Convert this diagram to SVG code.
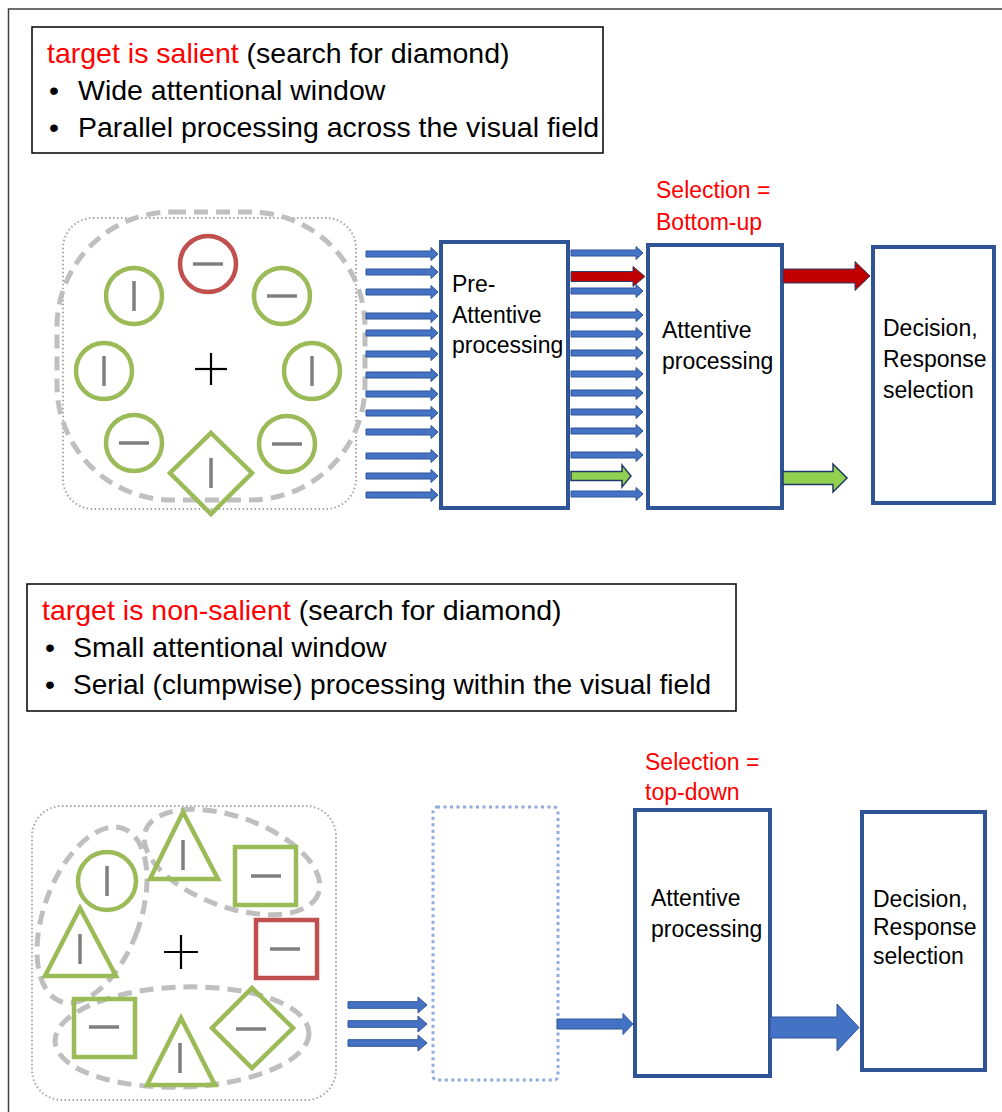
<svg xmlns="http://www.w3.org/2000/svg" xmlns:xlink="http://www.w3.org/1999/xlink" width="1002" height="1112" viewBox="0 0 1002 1112">
<style>
text{font-family:"Liberation Sans",Arial,sans-serif;fill:#000}
.hd{font-size:28.5px}
.lb{font-size:23px}
.red{fill:#FF0000}
.box{fill:#fff;stroke:#2F5597;stroke-width:4}
.tbox{fill:#fff;stroke:#000;stroke-width:1.5}
.g{fill:none;stroke:#9BBB59;stroke-width:4.5}
.r{fill:none;stroke:#C0504D;stroke-width:4.5}
.bar{stroke:#7F7F7F;stroke-width:3.5}
.plus{stroke:#000;stroke-width:2.2}
.dash{fill:none;stroke:#BFBFBF;stroke-width:5;stroke-dasharray:14 8}
.dot{fill:none;stroke:#A6A6A6;stroke-width:2;stroke-dasharray:1.5 2.5}
.blue{fill:#4472C4;stroke:#2F5597;stroke-width:1}
.redA{fill:#C00000;stroke:#2F3E6E;stroke-width:1}
.greenA{fill:#92D050;stroke:#203864;stroke-width:1.5}
</style>
<defs>
<path id="thin" d="M0,-3 H65 V-6.5 L72,0 L65,6.5 V3 H0 Z"/>
<path id="thin3" d="M0,-3.3 H70 V-8 L79,0 L70,8 V3.3 H0 Z"/>
</defs>
<rect width="1002" height="1112" fill="#fff"/>
<path d="M8.5,1112 V9 H1002" fill="none" stroke="#404040" stroke-width="1.5"/>

<!-- Top section -->
<g id="top-info">
<rect class="tbox" x="32" y="27" width="571" height="126"/>
<text class="hd" x="47" y="63"><tspan class="red">target is salient</tspan> (search for diamond)</text>
<text class="hd" x="49" y="100">•</text>
<text class="hd" x="78" y="100">Wide attentional window</text>
<text class="hd" x="49" y="137">•</text>
<text class="hd" x="78" y="137">Parallel processing across the visual field</text>
</g>

<g id="top-display">
<rect class="dot" x="63" y="218" width="293" height="291" rx="30"/>
<rect class="dash" x="57" y="212" width="308" height="288" rx="115"/>
<circle class="r" cx="208" cy="264" r="28"/><line class="bar" x1="193" y1="264" x2="223" y2="264"/>
<circle class="g" cx="134" cy="296" r="28"/><line class="bar" x1="134" y1="281" x2="134" y2="311"/>
<circle class="g" cx="282" cy="296" r="28"/><line class="bar" x1="267" y1="296" x2="297" y2="296"/>
<circle class="g" cx="104" cy="371" r="28"/><line class="bar" x1="104" y1="356" x2="104" y2="386"/>
<circle class="g" cx="312" cy="371" r="28"/><line class="bar" x1="312" y1="356" x2="312" y2="386"/>
<circle class="g" cx="134" cy="443" r="28"/><line class="bar" x1="119" y1="443" x2="149" y2="443"/>
<circle class="g" cx="287" cy="444" r="28"/><line class="bar" x1="272" y1="444" x2="302" y2="444"/>
<polygon class="g" points="211,433 252,473 211,514 170,473"/><line class="bar" x1="211" y1="458" x2="211" y2="488"/>
<line class="plus" x1="195" y1="369" x2="227" y2="369"/><line class="plus" x1="211" y1="353" x2="211" y2="385"/>
</g>

<g id="pre-attentive">
<rect class="box" x="441" y="242" width="127" height="266"/>
<text class="lb" x="452" y="292">Pre-</text>
<text class="lb" x="452" y="323">Attentive</text>
<text class="lb" x="452" y="353">processing</text>
</g>

<g id="attentive-top">
<text class="lb red" x="656" y="198">Selection =</text>
<text class="lb red" x="656" y="230">Bottom-up</text>
<rect class="box" x="648" y="245" width="134" height="263"/>
<text class="lb" x="662" y="338">Attentive</text>
<text class="lb" x="662" y="369">processing</text>
</g>

<g id="decision-top">
<rect class="box" x="873" y="247" width="121" height="256"/>
<text class="lb" x="883" y="336">Decision,</text>
<text class="lb" x="883" y="367">Response</text>
<text class="lb" x="883" y="398">selection</text>
</g>

<g id="connectors-top">
<use href="#thin" class="blue" x="366" y="254"/>
<use href="#thin" class="blue" x="366" y="272"/>
<use href="#thin" class="blue" x="366" y="292"/>
<use href="#thin" class="blue" x="366" y="316"/>
<use href="#thin" class="blue" x="366" y="333"/>
<use href="#thin" class="blue" x="366" y="354"/>
<use href="#thin" class="blue" x="366" y="375"/>
<use href="#thin" class="blue" x="366" y="394"/>
<use href="#thin" class="blue" x="366" y="413"/>
<use href="#thin" class="blue" x="366" y="432"/>
<use href="#thin" class="blue" x="366" y="456"/>
<use href="#thin" class="blue" x="366" y="476"/>
<use href="#thin" class="blue" x="366" y="495"/>

<use href="#thin" class="blue" x="571" y="253"/>
<use href="#thin" class="blue" x="571" y="291"/>
<use href="#thin" class="blue" x="571" y="315"/>
<use href="#thin" class="blue" x="571" y="334"/>
<use href="#thin" class="blue" x="571" y="353"/>
<use href="#thin" class="blue" x="571" y="374"/>
<use href="#thin" class="blue" x="571" y="393"/>
<use href="#thin" class="blue" x="571" y="412"/>
<use href="#thin" class="blue" x="571" y="431"/>
<use href="#thin" class="blue" x="571" y="455"/>
<use href="#thin" class="blue" x="571" y="494"/>
<path class="redA" d="M571,271.5 H633 V266.5 L645,276.5 L633,286.5 V281.5 H571 Z"/>
<path class="greenA" d="M571,471.5 H622 V465 L631,476 L622,487 V480.5 H571 Z"/>

<path class="redA" d="M783,269 H855 V261.5 L870,276 L855,290.5 V283 H783 Z"/>
<path class="greenA" d="M783,471.5 H833 V464 L847,478 L833,492 V484.5 H783 Z"/>
</g>

<!-- Bottom section -->
<g id="bottom-info">
<rect class="tbox" x="27" y="584" width="709" height="127"/>
<text class="hd" x="42" y="620"><tspan class="red">target is non-salient</tspan> (search for diamond)</text>
<text class="hd" x="45" y="657">•</text>
<text class="hd" x="73" y="657">Small attentional window</text>
<text class="hd" x="45" y="694">•</text>
<text class="hd" x="73" y="694" textLength="638" lengthAdjust="spacingAndGlyphs">Serial (clumpwise) processing within the visual field</text>
</g>

<g id="bottom-display">
<rect class="dot" x="32" y="806" width="304" height="294" rx="30"/>
<ellipse class="dash" cx="92" cy="915" rx="48" ry="92" transform="rotate(20 92 915)"/>
<ellipse class="dash" cx="232" cy="862" rx="92" ry="45" transform="rotate(20 232 862)"/>
<ellipse class="dash" cx="182" cy="1037" rx="127" ry="50" transform="rotate(-2 182 1037)"/>
<circle class="g" cx="107" cy="881" r="29"/><line class="bar" x1="107" y1="866" x2="107" y2="896"/>
<polygon class="g" points="183,812 218,879 150,879"/><line class="bar" x1="183" y1="840" x2="183" y2="870"/>
<rect class="g" x="235" y="847" width="61" height="58"/><line class="bar" x1="251" y1="876" x2="281" y2="876"/>
<polygon class="g" points="80,908 116,976 45,976"/><line class="bar" x1="80" y1="934" x2="80" y2="964"/>
<rect class="r" x="256" y="920" width="61" height="58"/><line class="bar" x1="270" y1="949" x2="300" y2="949"/>
<line class="plus" x1="164" y1="952" x2="198" y2="952"/><line class="plus" x1="181" y1="935" x2="181" y2="969"/>
<rect class="g" x="74" y="999" width="61" height="58"/><line class="bar" x1="89" y1="1027" x2="119" y2="1027"/>
<polygon class="g" points="181,1018 215,1085 147,1085"/><line class="bar" x1="180" y1="1043" x2="180" y2="1073"/>
<polygon class="g" points="252,988 293,1028 252,1068 212,1028"/><line class="bar" x1="236" y1="1029" x2="266" y2="1029"/>
</g>

<g id="pre-attentive-dotted">
<rect x="433" y="807" width="125" height="273" rx="4" fill="none" stroke="#8FAADC" stroke-width="3" stroke-dasharray="3 3.5"/>
</g>

<g id="attentive-bottom">
<text class="lb red" x="645" y="770">Selection =</text>
<text class="lb red" x="645" y="800">top-down</text>
<rect class="box" x="635" y="810" width="135" height="266"/>
<text class="lb" x="651" y="906">Attentive</text>
<text class="lb" x="651" y="937">processing</text>
</g>

<g id="decision-bottom">
<rect class="box" x="862" y="812" width="123" height="258"/>
<text class="lb" x="873" y="907">Decision,</text>
<text class="lb" x="873" y="935">Response</text>
<text class="lb" x="873" y="964">selection</text>
</g>

<g id="connectors-bottom">
<use href="#thin3" class="blue" x="348" y="1005"/>
<use href="#thin3" class="blue" x="348" y="1024"/>
<use href="#thin3" class="blue" x="348" y="1043"/>
<path class="blue" d="M557,1019 H623 V1013.5 L633,1024 L623,1034.5 V1029 H557 Z"/>
<path d="M770,1017 H837 V1004 L859,1027.5 L837,1051 V1038 H770 Z" fill="#4472C4" stroke="#2F5597" stroke-width="1"/>
</g>
</svg>
